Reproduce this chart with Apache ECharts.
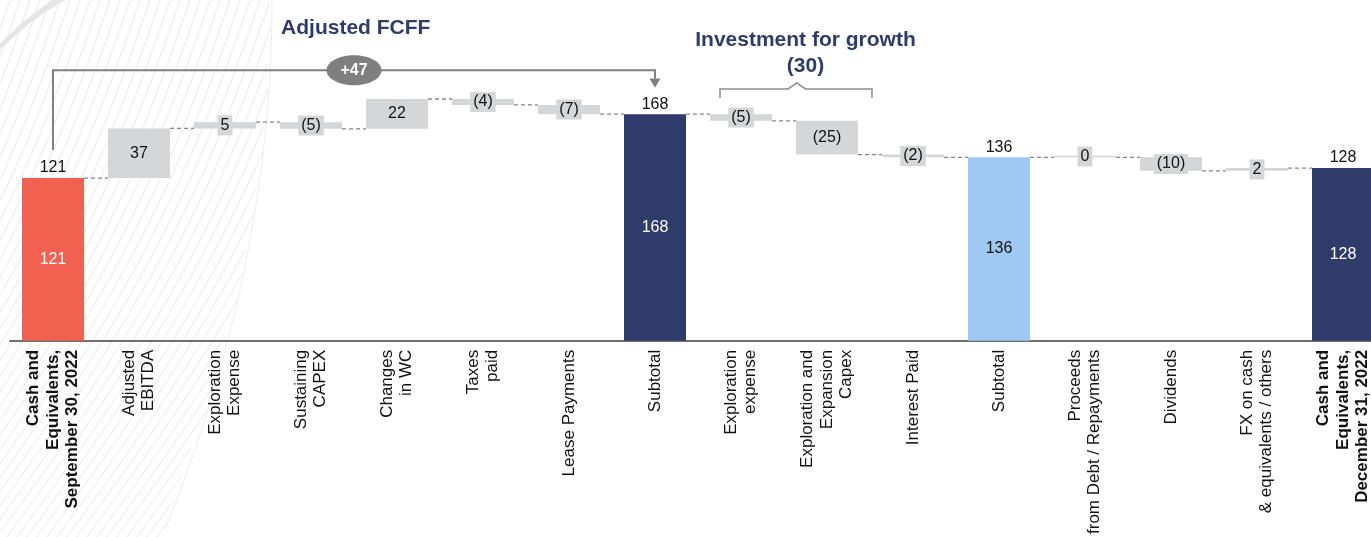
<!DOCTYPE html>
<html><head><meta charset="utf-8">
<script src="https://cdn.jsdelivr.net/npm/echarts@6/dist/echarts.min.js"></script>
<style>html,body{margin:0;padding:0;background:#fff;overflow:hidden;width:1371px;height:537px}#c{width:1400px;height:537px}</style>
</head><body><div id="c"></div>
<script>
// ---------------- data ----------------
const categories = [
  'Cash and\nEquivalents,\nSeptember 30, 2022',
  'Adjusted\nEBITDA',
  'Exploration\nExpense',
  'Sustaining\nCAPEX',
  'Changes\nin WC',
  'Taxes\npaid',
  'Lease Payments',
  'Subtotal',
  'Exploration\nexpense',
  'Exploration and\nExpansion\nCapex',
  'Interest Paid',
  'Subtotal',
  'Proceeds\nfrom Debt / Repayments',
  'Dividends',
  'FX on cash\n& equivalents / others',
  'Cash and\nEquivalents,\nDecember 31, 2022'
];
const boldCategories = [0, 15];
const values = [120.6, 36.8, 4.6, -4.9, 22.1, -4.4, -6.8, 168, -5, -25, -2, 136, 0, -10, 2, 128];
const kinds  = ['total','delta','delta','delta','delta','delta','delta','total','delta','delta','delta','total','delta','delta','delta','total'];
const fcffTitle = 'Adjusted FCFF';
const fcffChange = '+47';
const growthTitle = 'Investment for growth';
const growthChange = '(30)';

// ---------------- derived ----------------
const bases = [], heights = [], ends = [];
let level = 0;
values.forEach((v, i) => {
  if (kinds[i] === 'total') { bases.push(0); heights.push(v); level = v; }
  else { const nl = level + v; bases.push(Math.min(level, nl)); heights.push(Math.abs(v)); level = nl; }
  ends.push(level);
});
const fmt = (v, k) => k === 'total' ? String(Math.round(v)) : (v < 0 ? '(' + Math.round(-v) + ')' : String(Math.round(v)));

const FONT = '"Liberation Sans", Arial, sans-serif';
const BAR_W = 62;
const GRAY = '#D5D6D8';
const NAVY = '#2E3B6B';
const totalColor = {0: '#F26150', 7: '#2E3B6B', 11: '#9FC9F2', 15: '#2E3B6B'};
const totalLabel = {0: '#ffffff', 7: '#ffffff', 11: '#111111', 15: '#ffffff'};

const barData = heights.map((h, i) => {
  const k = kinds[i];
  if (k === 'total') {
    return { value: h, itemStyle: { color: totalColor[i] },
      label: { show: true, position: 'inside', color: totalLabel[i], fontSize: 16, fontFamily: FONT,
               formatter: () => fmt(values[i], k) } };
  }
  return { value: h, itemStyle: { color: GRAY },
    label: { show: true, position: 'inside', color: '#111', fontSize: 16, fontFamily: FONT,
             backgroundColor: GRAY, padding: [1, 3], lineHeight: 18,
             formatter: () => fmt(values[i], k) } };
});

const xData = categories.map((c, i) => boldCategories.includes(i)
  ? { value: c, textStyle: { fontWeight: 'bold' } } : c);

const connectorData = ends.slice(0, -1).map((e, i) => [i, e]);
const topLabelData = values.map((v, i) => kinds[i] === 'total' ? [i, v] : null).filter(Boolean);

const chart = echarts.init(document.getElementById('c'), null, { renderer: 'canvas' });

// decorative background curves (top-left swirl), stopped at a curved boundary
const deco = [];
const boundary = y => 272 - 110 * Math.pow(y / 537, 2);
for (let s = -330; s <= 230; s += 10) {
  const pts = [];
  for (let t = 0; t <= 1.0001; t += 0.02) {
    const y = 560 - t * 620;
    const x = s + t * 330 + 40 * Math.sin(Math.PI * t);
    if (x > boundary(Math.max(0, Math.min(537, y)))) break;
    pts.push([x, y]);
  }
  if (pts.length > 1) {
    deco.push({ type: 'polyline', silent: true, z: -10,
      shape: { points: pts, smooth: 0.3 },
      style: { stroke: '#e8e8e8', lineWidth: 1, fill: null } });
  }
}
const bpts = [];
for (let y = 0; y <= 537; y += 10) bpts.push([boundary(y), y]);
deco.push({ type: 'polyline', silent: true, z: -10, shape: { points: bpts, smooth: 0.3 },
  style: { stroke: '#ececec', lineWidth: 1, fill: null } });
// dense arcs in the top-left corner
for (let k = 0; k < 9; k++) {
  deco.push({ type: 'arc', silent: true, z: -10,
    shape: { cx: 190 + k * 3, cy: 230 + k * 2, r: 262 + k * 4,
             startAngle: 215 * Math.PI / 180, endAngle: 250 * Math.PI / 180 },
    style: { stroke: '#e4e4e4', lineWidth: 1, fill: null } });
}

chart.setOption({
  animation: false,
  backgroundColor: '#ffffff',
  grid: { left: 10, right: 14, top: 17, height: 329, containLabel: false },
  xAxis: {
    type: 'category', data: xData,
    axisLine: { show: true, lineStyle: { color: '#6e6e6e', width: 2 } },
    axisTick: { show: false },
    axisLabel: { interval: 0, rotate: 90, margin: 9, fontSize: 17, lineHeight: 19.5,
                 color: '#111', fontFamily: FONT }
  },
  yAxis: { type: 'value', min: 0, max: 240, show: false, splitLine: { show: false } },
  series: [
    { type: 'bar', stack: 'w', data: bases, barWidth: BAR_W, itemStyle: { color: 'transparent' },
      silent: true, z: 2 },
    { type: 'bar', stack: 'w', data: barData, barWidth: BAR_W, barMinHeight: 1.5, z: 3 },
    { type: 'custom', data: connectorData, z: 1, silent: true,
      encode: { x: 0, y: 1 },
      renderItem: (params, api) => {
        const i = api.value(0), y = api.value(1);
        const a = api.coord([i, y]), b = api.coord([i + 1, y]);
        return { type: 'line',
          shape: { x1: a[0] + BAR_W / 2, y1: a[1], x2: b[0] - BAR_W / 2, y2: b[1] },
          style: { stroke: '#858585', lineWidth: 1.3, lineDash: [4, 3] } };
      } },
    { type: 'custom', data: topLabelData, z: 4, silent: true,
      encode: { x: 0, y: 1 },
      renderItem: (params, api) => {
        const p = api.coord([api.value(0), api.value(1)]);
        return { type: 'text', x: p[0], y: p[1] - 2,
          style: { text: String(Math.round(api.value(1))), align: 'center', verticalAlign: 'bottom',
                   fontSize: 16, fill: '#111', font: '16px ' + FONT } };
      } }
  ],
  graphic: deco
});

// ---------------- annotations anchored to the axes ----------------
const x0 = chart.convertToPixel({ xAxisIndex: 0 }, 0);
const dx = chart.convertToPixel({ xAxisIndex: 0 }, 1) - x0;
const X = c => x0 + c * dx;
const Y = v => chart.convertToPixel({ yAxisIndex: 0 }, v);

const ann = [];
const LINE = '#808080';
ann.push({ type: 'polyline', silent: true, z: 20,
  shape: { points: [[X(0), Y(141.5)], [X(0), Y(200.6)], [X(7), Y(200.6)], [X(7), Y(194.5)]] },
  style: { stroke: LINE, lineWidth: 2, fill: null } });
ann.push({ type: 'polygon', silent: true, z: 20,
  shape: { points: [[X(7) - 5.5, Y(194.5)], [X(7) + 5.5, Y(194.5)], [X(7), Y(187.5)]] },
  style: { fill: LINE } });
ann.push({ type: 'ellipse', silent: true, z: 21,
  shape: { cx: X(3.5), cy: Y(200.6), rx: 27.5, ry: 15 }, style: { fill: '#7F7F7F' } });
ann.push({ type: 'text', silent: true, z: 22, x: X(3.5), y: Y(200.6),
  style: { text: fcffChange, align: 'center', verticalAlign: 'middle', fill: '#fff',
           font: 'bold 16px ' + FONT } });
ann.push({ type: 'text', silent: true, z: 22, x: X(3.52), y: Y(232),
  style: { text: fcffTitle, align: 'center', verticalAlign: 'middle', fill: NAVY,
           font: 'bold 21px ' + FONT } });
ann.push({ type: 'text', silent: true, z: 22, x: X(8.75), y: Y(213),
  style: { text: growthTitle + '\n' + growthChange, align: 'center', verticalAlign: 'middle', fill: NAVY,
           font: 'bold 21px ' + FONT, lineHeight: 26 } });
ann.push({ type: 'polyline', silent: true, z: 20,
  shape: { points: [[X(7.756), Y(180.2)], [X(7.756), Y(186.7)], [X(8.547), Y(186.7)], [X(8.65), Y(191.1)],
                    [X(8.75), Y(186.7)], [X(9.523), Y(186.7)], [X(9.523), Y(180.2)]] },
  style: { stroke: '#8c8c8c', lineWidth: 1.5, fill: null } });

chart.setOption({ graphic: deco.concat(ann) }, { replaceMerge: ['graphic'] });
</script>
</body></html>
